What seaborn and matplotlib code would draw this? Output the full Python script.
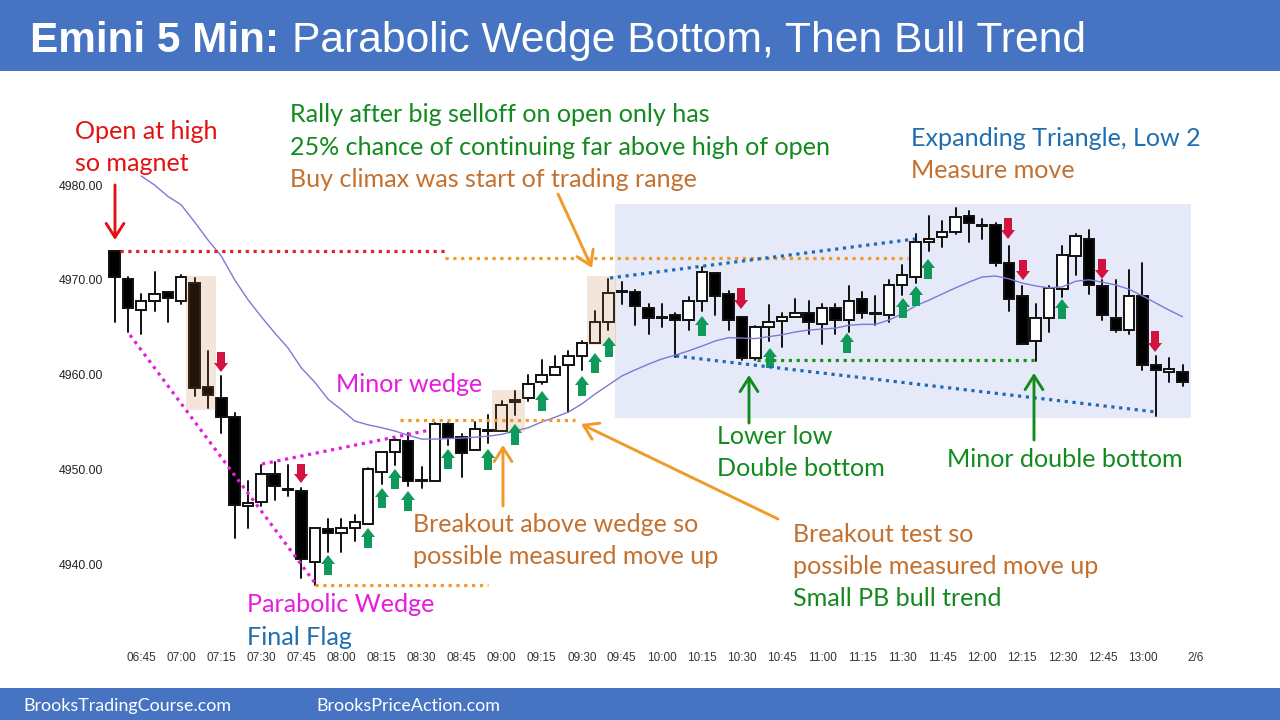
import matplotlib
matplotlib.use("Agg")
import matplotlib.pyplot as plt
import numpy as np
import pandas as pd
import seaborn as sns
from matplotlib.patches import FancyArrow, Rectangle

# OHLC of the 5 minute bars
opens = [4973.0, 4970.05, 4966.8, 4967.8, 4968.75, 4967.8, 4969.7, 4958.7, 4957.5, 4955.5,
         4946.1, 4946.55, 4949.5, 4947.95, 4947.75, 4940.25, 4943.75, 4943.25, 4943.8, 4944.2,
         4949.75, 4951.8, 4953.0, 4948.75, 4948.8, 4954.75, 4953.45, 4952.0, 4954.1, 4954.05,
         4957.1, 4957.5, 4959.25, 4960.0, 4961.0, 4962.0, 4963.3, 4965.6, 4968.7, 4968.75,
         4967.0, 4966.05, 4966.3, 4965.75, 4967.8, 4970.75, 4968.5, 4966.05, 4961.8, 4965.0,
         4965.7, 4966.05, 4966.5, 4965.3, 4967.0, 4965.75, 4968.0, 4966.45, 4966.3, 4969.5,
         4970.3, 4974.0, 4974.55, 4975.0, 4976.7, 4975.8, 4975.8, 4971.8, 4968.3, 4963.55,
         4966.0, 4969.0, 4972.55, 4974.3, 4969.3, 4966.0, 4964.75, 4968.3, 4961.0, 4960.3, 4960.25]
highs = [4973.0, 4970.3, 4968.5, 4970.8, 4968.75, 4970.5, 4970.2, 4962.5, 4959.8, 4956.0,
         4948.8, 4950.5, 4950.8, 4950.5, 4948.0, 4943.8, 4944.8, 4944.8, 4945.2, 4950.2,
         4951.8, 4953.2, 4953.8, 4950.3, 4954.9, 4954.9, 4953.7, 4955.0, 4955.7, 4957.25,
         4958.3, 4960.0, 4961.5, 4962.0, 4962.5, 4963.5, 4966.75, 4970.1, 4969.8, 4968.9,
         4967.5, 4967.5, 4966.5, 4968.2, 4971.4, 4970.75, 4968.85, 4966.05, 4965.1, 4967.3,
         4966.5, 4968.0, 4967.75, 4967.5, 4967.5, 4969.3, 4968.75, 4968.3, 4970.0, 4971.55,
         4974.8, 4976.75, 4976.2, 4977.55, 4977.3, 4976.4, 4976.0, 4973.6, 4969.35, 4967.5,
         4969.3, 4973.6, 4974.8, 4975.25, 4970.0, 4970.0, 4971.0, 4971.8, 4962.0, 4961.8, 4961.0]
lows = [4965.6, 4964.5, 4964.3, 4966.7, 4965.6, 4967.5, 4957.7, 4956.5, 4953.8, 4942.8,
        4943.8, 4946.1, 4946.8, 4947.2, 4938.5, 4937.8, 4941.25, 4941.25, 4942.5, 4944.2,
        4948.5, 4950.5, 4948.25, 4948.0, 4948.8, 4952.6, 4949.2, 4952.0, 4952.75, 4954.05,
        4955.7, 4957.25, 4959.0, 4960.0, 4956.1, 4960.5, 4963.3, 4964.7, 4967.5, 4965.2,
        4964.25, 4965.0, 4961.9, 4964.7, 4966.75, 4966.3, 4964.7, 4961.5, 4961.5, 4963.5,
        4962.9, 4966.05, 4964.25, 4963.2, 4964.25, 4964.5, 4966.0, 4965.2, 4965.5, 4968.4,
        4969.7, 4973.0, 4973.5, 4974.8, 4974.0, 4974.3, 4971.5, 4966.7, 4963.25, 4961.45,
        4964.5, 4968.2, 4970.5, 4968.5, 4965.75, 4964.5, 4964.25, 4960.5, 4955.6, 4959.25, 4958.8]
closes = [4970.3, 4967.05, 4967.8, 4968.5, 4968.05, 4970.3, 4958.55, 4957.8, 4955.5, 4946.25,
          4946.5, 4949.55, 4948.25, 4947.85, 4940.5, 4943.8, 4943.25, 4943.8, 4944.5, 4950.0,
          4951.8, 4953.1, 4948.8, 4948.85, 4954.8, 4953.45, 4951.75, 4954.3, 4954.2, 4956.8,
          4957.3, 4959.0, 4960.0, 4960.85, 4962.0, 4963.3, 4965.6, 4968.6, 4968.8, 4967.25,
          4966.0, 4965.95, 4965.75, 4967.8, 4970.8, 4968.3, 4965.75, 4961.8, 4965.05, 4965.6,
          4966.05, 4966.5, 4965.5, 4967.0, 4965.75, 4967.8, 4966.5, 4966.35, 4969.5, 4970.55,
          4974.0, 4974.3, 4975.0, 4976.6, 4976.0, 4975.7, 4971.75, 4968.0, 4963.25, 4966.0,
          4969.1, 4972.6, 4974.6, 4969.5, 4966.3, 4964.7, 4968.3, 4961.0, 4960.5, 4960.55, 4959.25]

# moving average, starts at the third bar
ema = [4980.95, 4980.0, 4978.8, 4977.9, 4976.1, 4974.2, 4972.5, 4970.0, 4967.9, 4966.1,
       4964.4, 4962.8, 4960.7, 4959.2, 4957.4, 4956.3, 4955.1, 4954.7, 4954.4, 4954.05,
       4953.6, 4953.2, 4953.2, 4953.25, 4953.3, 4953.4, 4953.5, 4953.7, 4954.05, 4954.4,
       4955.0, 4955.5, 4956.05, 4956.9, 4957.95, 4958.9, 4959.85, 4960.5, 4961.1, 4961.65,
       4962.05, 4962.5, 4963.0, 4963.55, 4963.9, 4963.85, 4963.8, 4964.0, 4964.2, 4964.5,
       4964.7, 4964.8, 4964.9, 4965.2, 4965.3, 4965.3, 4965.75, 4966.4, 4967.25, 4967.85,
       4968.5, 4969.15, 4969.75, 4970.3, 4970.4, 4970.1, 4969.65, 4969.35, 4969.15, 4969.25,
       4969.85, 4970.0, 4969.75, 4969.45, 4969.0, 4968.3, 4967.55, 4966.8, 4966.1]

time_ticks = [2, 5, 8, 11, 14, 17, 20, 23, 26, 29, 32, 35, 38, 41, 44, 47, 50, 53, 56, 59, 62,
              65, 68, 71, 74, 77, 81]
time_labels = ["06:45", "07:00", "07:15", "07:30", "07:45", "08:00", "08:15", "08:30", "08:45",
               "09:00", "09:15", "09:30", "09:45", "10:00", "10:15", "10:30", "10:45", "11:00",
               "11:15", "11:30", "11:45", "12:00", "12:15", "12:30", "12:45", "13:00", "2/6"]
price_ticks = [4940, 4950, 4960, 4970, 4980]

W, H = 1280, 720
BAR_PX = 13.35
PRICE_PX = 9.48

BLUE_BAR = "#4674C2"
GREEN = "#138A1E"
ORANGE = "#C4702E"
ARROW_ORANGE = "#F09A28"
RED = "#E31212"
MAGENTA = "#E61CDF"
BLUE_TXT = "#1F6FB0"
BLOCK_GREEN = "#0F9A5C"
BLOCK_RED = "#D2123F"
DOT_BLUE = "#1F6AB5"

sns.set_theme(style="white")
plt.rcParams["font.family"] = ["Lato", "DejaVu Sans"]

fig = plt.figure(figsize=(12.8, 7.2), dpi=100, facecolor="white")


def px_axes(zorder):
    a = fig.add_axes([0, 0, 1, 1], zorder=zorder)
    a.set_xlim(0, W)
    a.set_ylim(H, 0)
    a.axis("off")
    a.patch.set_alpha(0)
    return a


# background layer: banners and trading range box
back = px_axes(0)
back.add_patch(Rectangle((0, 0), W, 71, color=BLUE_BAR, lw=0))
back.add_patch(Rectangle((0, 688), W, 32, color=BLUE_BAR, lw=0))
back.add_patch(Rectangle((615, 204), 576, 214, color="#E6EAF8", lw=0))

# the chart itself, pixel mapping from the price and time labels
left, right, top, bottom = 105, 1210, 170, 648
ax = fig.add_axes([left / W, 1 - bottom / H, (right - left) / W, (bottom - top) / H], zorder=1)
ax.patch.set_alpha(0)
ax.set_xlim((left - 114.5) / BAR_PX, (right - 114.5) / BAR_PX)
ax.set_ylim(4980 - (bottom - 185) / PRICE_PX, 4980 + (185 - top) / PRICE_PX)

df = pd.DataFrame({"bar": np.arange(len(opens)), "open": opens, "high": highs, "low": lows, "close": closes})

# wicks
wicks = df.melt(id_vars="bar", value_vars=["high", "low"], value_name="price")
sns.lineplot(data=wicks, x="bar", y="price", units="bar", estimator=None, color="#111111",
             linewidth=1.4, ax=ax, legend=False, zorder=2)

# bodies
up = df["close"] >= df["open"]
ax.bar(df["bar"], (df["close"] - df["open"]).abs(), bottom=df[["open", "close"]].min(axis=1),
       width=0.78, color=np.where(up, "white", "black"), edgecolor="#111111", linewidth=1.4, zorder=3)

sns.lineplot(x=np.arange(2, len(opens)), y=ema, color="#7C78D8", linewidth=1.0, ax=ax, zorder=4)

ax.set_xticks(time_ticks)
ax.set_xticklabels(time_labels, fontsize=8.5, family="Liberation Sans", color="#333333")
ax.set_yticks(price_ticks)
ax.set_yticklabels([f"{p:.2f}" for p in price_ticks], fontsize=8.8, family="Liberation Sans", color="#222222")
ax.tick_params(length=0, pad=1)
ax.tick_params(axis="x", pad=3)
ax.set_xlabel("")
ax.set_ylabel("")
sns.despine(ax=ax, left=True, bottom=True)

# everything drawn over the chart
top_ax = px_axes(2)

for x, y, w, h in [(186, 276, 30, 134), (492, 390, 33, 42), (587, 276, 29, 69)]:
    top_ax.add_patch(Rectangle((x, y), w, h, color="#C07030", alpha=0.18, lw=0))


def dots(x0, y0, x1, y1, color):
    top_ax.plot([x0, x1], [y0, y1], color=color, lw=2.3, linestyle=(0, (1, 1.45)))


dots(120, 251, 447, 251, "#E0211F")
dots(130, 335, 315, 583, MAGENTA)
dots(262, 464, 430, 430, MAGENTA)
dots(315, 585, 488, 585, ARROW_ORANGE)
dots(400, 420, 575, 420, ARROW_ORANGE)
dots(445, 258, 908, 258, ARROW_ORANGE)
dots(610, 278, 915, 239, DOT_BLUE)
dots(676, 356, 1156, 412, DOT_BLUE)
dots(757, 360, 1035, 360, "#17921F")


def line_arrow(x0, y0, x1, y1, color):
    top_ax.annotate("", xy=(x1, y1), xytext=(x0, y0),
                    arrowprops=dict(arrowstyle="->,head_length=0.5,head_width=0.32", color=color,
                                    lw=2.1, shrinkA=0, shrinkB=0, mutation_scale=20))


line_arrow(115, 185, 115, 240, RED)
line_arrow(558, 194, 592, 268, ARROW_ORANGE)
line_arrow(778, 519, 581, 424, ARROW_ORANGE)
line_arrow(503, 506, 503, 445, ARROW_ORANGE)
line_arrow(749, 423, 749, 375, GREEN)
line_arrow(1034, 440, 1034, 373, GREEN)


def block(x, y0, y1, color):
    top_ax.add_patch(FancyArrow(x, y0, 0, y1 - y0, width=8, head_width=14, head_length=9,
                                length_includes_head=True, color=color, lw=0))


# green arrows go up: tail at the bottom
for x, yt, yb in [(328, 555, 575), (368, 528, 548), (382, 488, 508), (395, 469, 489), (408, 491, 511),
                  (448, 449, 469), (488, 449, 470), (515, 424, 445), (542, 391, 411), (582, 376, 396),
                  (595, 353, 373), (609, 337, 357), (702, 316, 336), (770, 348, 368), (847, 333, 353),
                  (903, 298, 318), (916, 286, 306), (928, 259, 279), (1062, 299, 319)]:
    block(x, yb, yt, BLOCK_GREEN)

for x, yt, yb in [(221, 352, 372), (301, 464, 483), (741, 288, 309), (1008, 218, 239),
                  (1023, 260, 280), (1102, 259, 279), (1155, 331, 352)]:
    block(x, yt, yb, BLOCK_RED)

# title and footer
top_ax.text(30, 52, "Emini 5 Min:", color="white", fontsize=30.4, fontweight="bold",
            family="Liberation Sans", va="baseline")
top_ax.text(292, 52, "Parabolic Wedge Bottom, Then Bull Trend", color="white", fontsize=30.7,
            family="Liberation Sans", va="baseline")
top_ax.text(23, 711, "BrooksTradingCourse.com", color="white", fontsize=12.9, va="baseline")
top_ax.text(316, 711, "BrooksPriceAction.com", color="white", fontsize=12.9, va="baseline")

# comments on the chart
notes = [
    (75, 139, "Open at high", RED),
    (75, 171, "so magnet", RED),
    (290, 122, "Rally after big selloff on open only has", GREEN),
    (290, 155, "25% chance of continuing far above high of open", GREEN),
    (290, 187, "Buy climax was start of trading range", ORANGE),
    (911, 146, "Expanding Triangle, Low 2", BLUE_TXT),
    (911, 178, "Measure move", ORANGE),
    (336, 392, "Minor wedge", MAGENTA),
    (717, 444, "Lower low", GREEN),
    (717, 476, "Double bottom", GREEN),
    (947, 467, "Minor double bottom", GREEN),
    (413, 532, "Breakout above wedge so", ORANGE),
    (413, 564, "possible measured move up", ORANGE),
    (793, 542, "Breakout test so", ORANGE),
    (793, 574, "possible measured move up", ORANGE),
    (793, 606, "Small PB bull trend", GREEN),
    (247, 612, "Parabolic Wedge", MAGENTA),
    (247, 645, "Final Flag", BLUE_TXT),
]
for x, y, txt, col in notes:
    top_ax.text(x, y, txt, color=col, fontsize=18.1, va="baseline")

fig.savefig("out.png", dpi=100)
